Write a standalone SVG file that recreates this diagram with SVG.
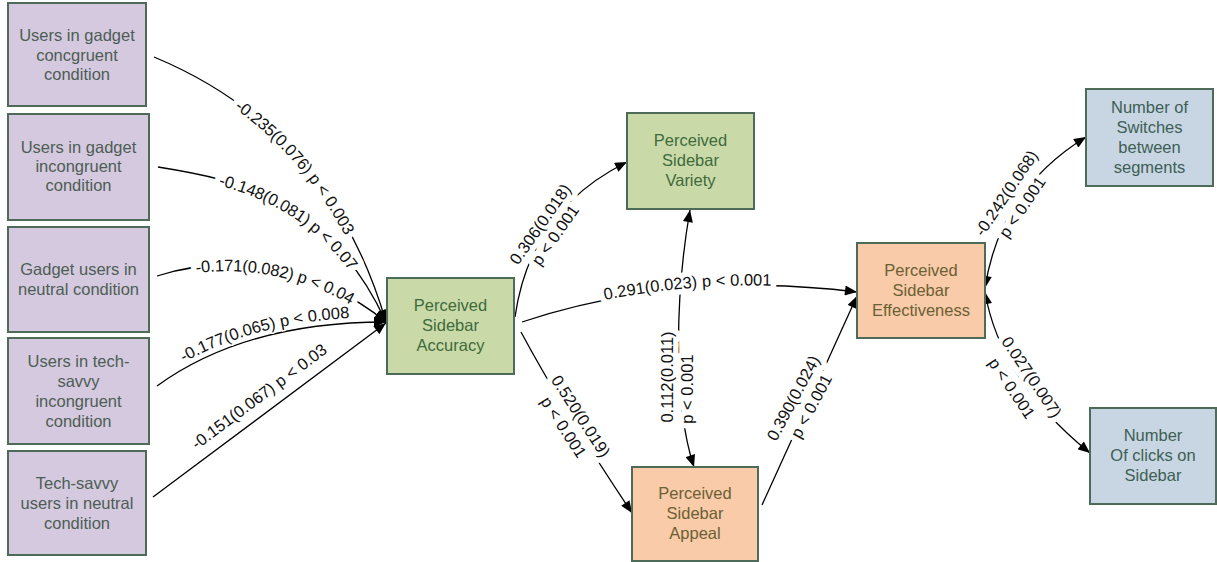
<svg xmlns="http://www.w3.org/2000/svg" width="1217" height="562" viewBox="0 0 1217 562">
<style>
.node rect{stroke:#4e6a58;stroke-width:2}
.pu rect{fill:#d4c9de}.pu text{fill:#4d5d55}
.gr rect{fill:#c9daa8}.gr text{fill:#3e6a3c}
.or rect{fill:#f9cba8}.or text{fill:#6b6035}
.bl rect{fill:#c8d5e2}.bl text{fill:#3d5f55}
.node text{font-family:"Liberation Sans",Arial,sans-serif;font-size:16.5px;text-anchor:middle;dominant-baseline:central}
.edge{fill:none;stroke:#000;stroke-width:1.3}
.lbl{font-family:"Liberation Sans",Arial,sans-serif;font-size:16.5px}
.c{dominant-baseline:central;text-anchor:middle}
.halo{fill:#fff;stroke:#fff;stroke-width:11;stroke-linejoin:round}
.halo-thin{fill:#fff;stroke:#fff;stroke-width:3;stroke-linejoin:round}
.ink{fill:#111;stroke:none}
</style>
<defs>
<marker id="ah" viewBox="0 0 12 10" refX="12" refY="5" markerWidth="13" markerHeight="10" markerUnits="userSpaceOnUse" orient="auto-start-reverse"><path d="M0,0 L12,5 L0,10 z" fill="#000"/></marker>
<path id="t4" d="M155,381 Q243,317 384,317"/>
<path id="t5" d="M146,488 L379,314"/>
<text id="l1" class="lbl" dominant-baseline="central"><textPath href="#e1" startOffset="50%" text-anchor="middle">-0.235(0.076) p &lt; 0.003</textPath></text>
<text id="l2" class="lbl" dominant-baseline="central"><textPath href="#e2" startOffset="50%" text-anchor="middle">-0.148(0.081) p &lt; 0.07</textPath></text>
<text id="l3" class="lbl" dominant-baseline="central"><textPath href="#e3" startOffset="50%" text-anchor="middle">-0.171(0.082) p &lt; 0.04</textPath></text>
<text id="l4" class="lbl"><textPath href="#t4" startOffset="50%" text-anchor="middle">-0.177(0.065) p &lt; 0.008</textPath></text>
<text id="l5" class="lbl"><textPath href="#t5" startOffset="50%" text-anchor="middle">-0.151(0.067) p &lt; 0.03</textPath></text>
<text id="l7" class="lbl"><textPath href="#e7" startOffset="50%" text-anchor="middle">0.291(0.023) p &lt; 0.001</textPath></text>
<g id="l6"><text class="lbl c" transform="translate(540,224) rotate(-55)">0.306(0.018)</text>
<text class="lbl c" transform="translate(555,235) rotate(-55)">p &lt; 0.001</text></g>
<g id="l8"><text class="lbl c" transform="translate(581,416) rotate(57)">0.520(0.019)</text>
<text class="lbl c" transform="translate(564,427) rotate(57)">p &lt; 0.001</text></g>
<g id="l9"><text class="lbl c" transform="translate(667,377) rotate(-90)">0.112(0.011)</text>
<text class="lbl c" transform="translate(687,389) rotate(-90)">p &lt; 0.001</text></g>
<g id="l10"><text class="lbl c" transform="translate(793,398) rotate(-62)">0.390(0.024)</text>
<text class="lbl c" transform="translate(811,406) rotate(-62)">p &lt; 0.001</text></g>
<g id="l11"><text class="lbl c" transform="translate(1006,193) rotate(-56)">-0.242(0.068)</text>
<text class="lbl c" transform="translate(1022,207) rotate(-56)">p &lt; 0.001</text></g>
<g id="l12"><text class="lbl c" transform="translate(1032,377) rotate(56)">0.027(0.007)</text>
<text class="lbl c" transform="translate(1012,388) rotate(56)">p &lt; 0.001</text></g>
</defs>

<g id="connectors">
<path id="e1" class="edge" d="M154,57 Q330,130 386,322" marker-end="url(#ah)"/>
<path id="e2" class="edge" d="M158,167 C240,180 330,200 386,322" marker-end="url(#ah)"/>
<path id="e3" class="edge" d="M157,276 C230,252 320,268 386,322" marker-end="url(#ah)"/>
<path id="e4" class="edge" d="M157,386 Q245,322 386,322" marker-end="url(#ah)"/>
<path id="e5" class="edge" d="M153,497 L386,323" marker-end="url(#ah)"/>
<path id="e6" class="edge" d="M515,317 Q530,210 627,162" marker-end="url(#ah)"/>
<path id="e7" class="edge" d="M522,322 Q680,270 857,292" marker-end="url(#ah)"/>
<path id="e8" class="edge" d="M521,332 Q560,405 632,513" marker-end="url(#ah)"/>
<path id="e9" class="edge" d="M690,210 C676,290 672,400 694,467" marker-start="url(#ah)" marker-end="url(#ah)"/>
<path id="e10" class="edge" d="M762,505 Q810,400 857,296" marker-end="url(#ah)"/>
<path id="e11" class="edge" d="M985,288 Q1000,190 1086,137" marker-start="url(#ah)" marker-end="url(#ah)"/>
<path id="e12" class="edge" d="M985,292 Q1000,380 1090,453" marker-start="url(#ah)" marker-end="url(#ah)"/>
</g>

<g id="label-backgrounds">
<use href="#l1" class="halo"/><use href="#l2" class="halo"/><use href="#l3" class="halo"/>
<use href="#l4" class="halo-thin"/><use href="#l5" class="halo-thin"/><use href="#l7" class="halo"/>
<use href="#l6" class="halo"/><use href="#l8" class="halo"/><use href="#l9" class="halo"/>
<use href="#l10" class="halo"/><use href="#l11" class="halo"/><use href="#l12" class="halo"/>
</g>
<g id="labels">
<use href="#l1" class="ink"/><use href="#l2" class="ink"/><use href="#l3" class="ink"/>
<use href="#l4" class="ink"/><use href="#l5" class="ink"/><use href="#l7" class="ink"/>
<use href="#l6" class="ink"/><use href="#l8" class="ink"/><use href="#l9" class="ink"/>
<use href="#l10" class="ink"/><use href="#l11" class="ink"/><use href="#l12" class="ink"/>
</g>

<g id="n1" class="node pu"><rect x="8" y="3" width="138" height="103"/>
<text x="77" y="35">Users in gadget</text><text x="77" y="54.5">concgruent</text><text x="77" y="74">condition</text></g>
<g id="n2" class="node pu"><rect x="8" y="114" width="141" height="106"/>
<text x="78.5" y="147">Users in gadget</text><text x="78.5" y="166">incongruent</text><text x="78.5" y="185">condition</text></g>
<g id="n3" class="node pu"><rect x="8" y="227" width="141" height="105"/>
<text x="78.5" y="269">Gadget users in</text><text x="78.5" y="289">neutral condition</text></g>
<g id="n4" class="node pu"><rect x="8" y="338" width="141" height="106"/>
<text x="78.5" y="361">Users in tech-</text><text x="78.5" y="381">savvy</text><text x="78.5" y="401">incongruent</text><text x="78.5" y="421">condition</text></g>
<g id="n5" class="node pu"><rect x="8" y="451" width="138" height="104"/>
<text x="77" y="483">Tech-savvy</text><text x="77" y="503">users in neutral</text><text x="77" y="523">condition</text></g>

<g id="accuracy" class="node gr"><rect x="387" y="278" width="127" height="96"/>
<text x="450.5" y="305">Perceived</text><text x="450.5" y="325">Sidebar</text><text x="450.5" y="345">Accuracy</text></g>
<g id="variety" class="node gr"><rect x="627" y="113" width="127" height="96"/>
<text x="690.5" y="140">Perceived</text><text x="690.5" y="160">Sidebar</text><text x="690.5" y="180">Variety</text></g>
<g id="appeal" class="node or"><rect x="632" y="467" width="126" height="94"/>
<text x="695" y="493">Perceived</text><text x="695" y="513">Sidebar</text><text x="695" y="533">Appeal</text></g>
<g id="effectiveness" class="node or"><rect x="857" y="243" width="128" height="95"/>
<text x="921" y="270">Perceived</text><text x="921" y="290">Sidebar</text><text x="921" y="310">Effectiveness</text></g>
<g id="switches" class="node bl"><rect x="1086" y="89" width="127" height="97"/>
<text x="1149.5" y="107">Number of</text><text x="1149.5" y="127">Switches</text><text x="1149.5" y="147">between</text><text x="1149.5" y="167">segments</text></g>
<g id="clicks" class="node bl"><rect x="1090" y="408" width="126" height="96"/>
<text x="1153" y="435">Number</text><text x="1153" y="455">Of clicks on</text><text x="1153" y="475">Sidebar</text></g>
</svg>
